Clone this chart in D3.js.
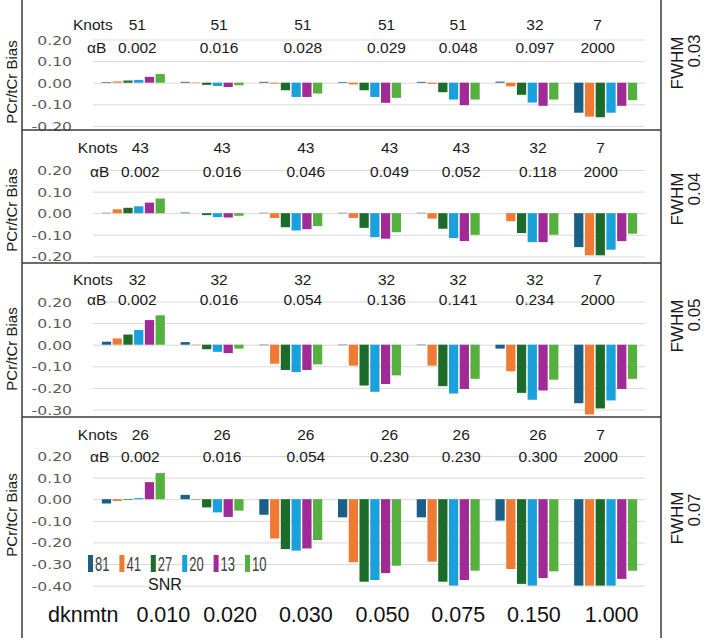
<!DOCTYPE html>
<html>
<head>
<meta charset="utf-8">
<script src="https://cdn.jsdelivr.net/npm/d3@7"></script>
<style>
  body { margin: 0; background: #fff; }
  svg { display: block; font-family: 'Liberation Sans', Arial, sans-serif; }
</style>
</head>
<body>
<div id="chart"></div>
<script>

// DATA
// snr levels (one bar each) and the dknmtn categories (one group each)
const snr = [81, 41, 27, 20, 13, 10];
const dknmtn = ['0.010', '0.020', '0.030', '0.050', '0.075', '0.150', '1.000'];
const fwhm = ['0.03', '0.04', '0.05', '0.07'];

// knots and alpha B written above every group
const knots03 = [51, 51, 51, 51, 51, 32, 7];
const knots04 = [43, 43, 43, 43, 43, 32, 7];
const knots05 = [32, 32, 32, 32, 32, 32, 7];
const knots07 = [26, 26, 26, 26, 26, 26, 7];
const alphaB03 = ['0.002', '0.016', '0.028', '0.029', '0.048', '0.097', '2000'];
const alphaB04 = ['0.002', '0.016', '0.046', '0.049', '0.052', '0.118', '2000'];
const alphaB05 = ['0.002', '0.016', '0.054', '0.136', '0.141', '0.234', '2000'];
const alphaB07 = ['0.002', '0.016', '0.054', '0.230', '0.230', '0.300', '2000'];

// PCr/tCr bias, one row per dknmtn group, one value per snr
const bias03 = [
    [0.003, 0.006, 0.010, 0.013, 0.027, 0.040],
    [0.004, -0.002, -0.010, -0.015, -0.020, -0.012],
    [0.004, -0.004, -0.035, -0.066, -0.066, -0.050],
    [0.003, -0.008, -0.035, -0.066, -0.093, -0.070],
    [0.004, -0.005, -0.044, -0.078, -0.104, -0.078],
    [0.005, -0.017, -0.056, -0.092, -0.107, -0.078],
    [-0.139, -0.157, -0.160, -0.139, -0.107, -0.081]
];
const bias04 = [
    [0.002, 0.018, 0.025, 0.032, 0.049, 0.068],
    [0.003, 0.000, -0.009, -0.018, -0.020, -0.012],
    [0.002, -0.022, -0.065, -0.080, -0.074, -0.060],
    [0.002, -0.022, -0.068, -0.111, -0.118, -0.088],
    [0.002, -0.025, -0.072, -0.115, -0.129, -0.100],
    [0.000, -0.037, -0.092, -0.134, -0.134, -0.100],
    [-0.157, -0.195, -0.195, -0.169, -0.129, -0.095]
];
const bias05 = [
    [0.014, 0.029, 0.047, 0.068, 0.114, 0.136],
    [0.012, -0.002, -0.021, -0.033, -0.039, -0.018],
    [-0.002, -0.088, -0.117, -0.127, -0.117, -0.091],
    [-0.002, -0.097, -0.189, -0.218, -0.182, -0.142],
    [-0.002, -0.097, -0.192, -0.226, -0.205, -0.158],
    [-0.018, -0.123, -0.223, -0.255, -0.212, -0.162],
    [-0.271, -0.323, -0.295, -0.258, -0.205, -0.158]
];
const bias07 = [
    [-0.020, -0.008, -0.003, 0.005, 0.079, 0.121],
    [0.020, -0.003, -0.038, -0.061, -0.082, -0.053],
    [-0.072, -0.182, -0.231, -0.238, -0.228, -0.189],
    [-0.084, -0.292, -0.382, -0.374, -0.342, -0.308],
    [-0.084, -0.289, -0.382, -0.400, -0.374, -0.331],
    [-0.099, -0.323, -0.392, -0.400, -0.365, -0.334],
    [-0.400, -0.400, -0.400, -0.400, -0.369, -0.331]
];

// lower end of the y axis of each panel (top is always 0.20)
const yMin = [-0.2, -0.2, -0.3, -0.4];

const panels = fwhm.map((f, i) => ({
    fwhm: f,
    knots: [knots03, knots04, knots05, knots07][i],
    alphaB: [alphaB03, alphaB04, alphaB05, alphaB07][i],
    bias: [bias03, bias04, bias05, bias07][i],
    yMin: yMin[i]
}));

// LAYOUT
const width = 709, height = 642;
const borderLeft = 22, borderRight = 661, borderBottom = 638;
const panelLines = [130, 263, 417];
const yTop = [39.5, 170, 301.5, 456];   // pixel row of the 0.20 gridline
const pxPerUnit = 216;
const textDx = [0, 3, 0, 3];            // the panels' text boxes are not quite aligned
const annotDx = [4, 7, 12, 17, 10, 8, -8];
const knotsY = [30, 153, 285, 440];
const alphaY = [53, 177, 305, 462];
const titleY = [82, 210, 349, 515];
const fwhmY = [63, 199, 326, 518];
const fwhmValY = [51, 189, 315, 510];
const labelDx = [30, 18, 15, 13, 10, 7, 6];

const colors = ['#1b5e86', '#ee7a34', '#1c6b2a', '#1aa0db', '#a12b96', '#55b040'];

const svg = d3.select('#chart')
    .append('svg')
    .attr('width', width)
    .attr('height', height);

// scales shared by all the panels
const x0 = d3.scaleBand()
    .domain(dknmtn)
    .range([94, 645])
    .paddingInner(0.2)
    .paddingOuter(0.1);

const x1 = d3.scaleBand()
    .domain(snr)
    .range([0, x0.bandwidth()])
    .paddingInner(0.14);

const color = d3.scaleOrdinal()
    .domain(snr)
    .range(colors);

const fmt = v => d3.format('.2f')(v).replace('\u2212', '-');

panels.forEach((p, i) => {
    const y = d3.scaleLinear()
        .domain([0.2, p.yMin])
        .range([yTop[i], yTop[i] + (0.2 - p.yMin) * pxPerUnit]);

    const ticks = d3.range(2, Math.round(p.yMin * 10) - 1, -1).map(v => v / 10);

    const panel = svg.append('g');

    // gridlines
    panel.append('g')
        .attr('transform', `translate(${x0.range()[0] - 1} 0)`)
        .call(d3.axisLeft(y).tickValues(ticks).tickSize(-(x0.range()[1] - x0.range()[0] + 1)).tickFormat(''))
        .call(g => g.select('.domain').remove())
        .call(g => g.selectAll('line').attr('stroke', '#d9d9d9'));

    // tick labels, the original font is drawn wide
    panel.append('g')
        .attr('transform', 'translate(72 0)')
        .call(d3.axisLeft(y).tickValues(ticks).tickSize(0).tickPadding(0).tickFormat(fmt))
        .call(g => g.select('.domain').remove())
        .call(g => g.selectAll('text')
            .attr('font-family', "'DejaVu Sans', sans-serif")
            .attr('font-size', 12.5)
            .attr('fill', '#595959')
            .attr('dy', '0.36em')
            .attr('transform', 'scale(1.25 1)'));

    // bars
    const groups = panel.append('g')
        .selectAll('g')
        .data(p.bias)
        .join('g')
        .attr('transform', (d, j) => `translate(${x0(dknmtn[j])} 0)`);

    groups.selectAll('rect')
        .data(d => d.map((v, k) => ({ snr: snr[k], value: v })))
        .join('rect')
        .attr('x', d => x1(d.snr))
        .attr('width', x1.bandwidth())
        .attr('y', d => y(Math.max(0, d.value)))
        .attr('height', d => Math.abs(y(d.value) - y(0)))
        .attr('fill', d => color(d.snr));

    // knots / alpha B rows
    const annot = panel.append('g')
        .attr('font-size', 15.5)
        .attr('fill', '#1a1a1a');

    annot.append('text')
        .attr('x', 73 + textDx[i] * 1.6)
        .attr('y', knotsY[i])
        .text('Knots');

    annot.append('text')
        .attr('x', 87 + textDx[i])
        .attr('y', alphaY[i])
        .text('\u03b1B');

    annot.selectAll('.knot')
        .data(p.knots)
        .join('text')
        .attr('class', 'knot')
        .attr('text-anchor', 'middle')
        .attr('x', (d, j) => x0(dknmtn[j]) + x0.bandwidth() / 2 + annotDx[j] + textDx[i])
        .attr('y', knotsY[i])
        .text(d => d);

    annot.selectAll('.alpha')
        .data(p.alphaB)
        .join('text')
        .attr('class', 'alpha')
        .attr('text-anchor', 'middle')
        .attr('x', (d, j) => x0(dknmtn[j]) + x0.bandwidth() / 2 + annotDx[j] + textDx[i])
        .attr('y', alphaY[i])
        .text(d => d);

    // y title
    panel.append('text')
        .attr('transform', `translate(17 ${titleY[i]}) rotate(-90)`)
        .attr('text-anchor', 'middle')
        .attr('font-size', 15)
        .attr('fill', '#1a1a1a')
        .text('PCr/tCr Bias');

    // FWHM label on the right
    panel.append('text')
        .attr('transform', `translate(683 ${fwhmY[i]}) rotate(-90)`)
        .attr('text-anchor', 'middle')
        .attr('font-size', 17)
        .attr('fill', '#1a1a1a')
        .text('FWHM');

    panel.append('text')
        .attr('transform', `translate(700 ${fwhmValY[i]}) rotate(-90)`)
        .attr('text-anchor', 'middle')
        .attr('font-size', 17)
        .attr('fill', '#1a1a1a')
        .text(p.fwhm);
});

// dknmtn row along the bottom
const bottom = svg.append('g')
    .attr('font-size', 21.5)
    .attr('fill', '#111');

bottom.append('text')
    .attr('x', 48)
    .attr('y', 622)
    .text('dknmtn');

bottom.selectAll('.cat')
    .data(dknmtn)
    .join('text')
    .attr('class', 'cat')
    .attr('text-anchor', 'middle')
    .attr('x', (d, j) => x0(d) + x0.bandwidth() / 2 + labelDx[j])
    .attr('y', 622)
    .text(d => d);

// SNR legend inside the last panel
const legend = svg.append('g')
    .attr('transform', 'translate(88 555)');

const items = legend.selectAll('g')
    .data(snr)
    .join('g')
    .attr('transform', (d, k) => `translate(${k * 31.4} 0)`);

items.append('rect')
    .attr('width', 5)
    .attr('height', 17)
    .attr('fill', d => color(d));

items.append('text')
    .attr('transform', 'translate(7 16) scale(0.62 1)')
    .attr('font-size', 21)
    .attr('fill', '#404040')
    .text(d => d);

legend.append('text')
    .attr('x', 77)
    .attr('y', 35)
    .attr('text-anchor', 'middle')
    .attr('font-size', 16)
    .attr('fill', '#1a1a1a')
    .text('SNR');

// panel borders
const borders = svg.append('g')
    .attr('stroke', '#3a3a3a')
    .attr('stroke-width', 1.5);

borders.append('line')
    .attr('x1', borderLeft).attr('x2', borderLeft)
    .attr('y1', 0).attr('y2', borderBottom);

borders.append('line')
    .attr('x1', borderRight).attr('x2', borderRight)
    .attr('y1', 0).attr('y2', borderBottom);

borders.selectAll('.sep')
    .data(panelLines)
    .join('line')
    .attr('class', 'sep')
    .attr('x1', borderLeft).attr('x2', borderRight)
    .attr('y1', d => d).attr('y2', d => d);

</script>
</body>
</html>
